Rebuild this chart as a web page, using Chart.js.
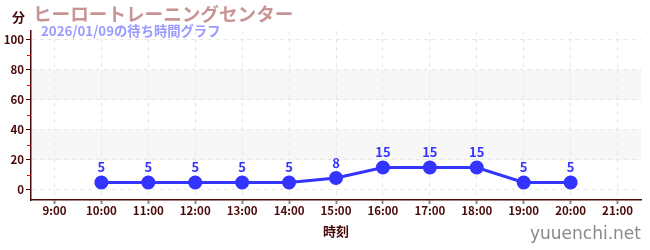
<!DOCTYPE html>
<html>
<head>
<meta charset="utf-8">
<script src="https://cdn.jsdelivr.net/npm/chart.js@4"></script>
<style>
  html, body { margin: 0; padding: 0; background: #fff; }
  #wrap { position: relative; width: 650px; height: 250px; font-family: "Noto Sans CJK JP", "Noto Sans", sans-serif; }
  canvas { position: absolute; left: 0; top: 0; }
  .lbl { position: absolute; white-space: nowrap; font-weight: bold; line-height: 1; }
  #unit { left: 12px; top: 10px; font-size: 13px; color: #4a0a0a; }
  #title { left: 33px; top: 4px; font-size: 18.6px; color: #c89494; }
  #sub { left: 41px; top: 24px; font-size: 13.3px; color: #9a9aff; }
  #mark { left: 530px; top: 225px; font-size: 17px; color: #8a8a8a; font-weight: 500; font-family: "DejaVu Sans", sans-serif; }
</style>
</head>
<body>
<div id="wrap">
  <canvas id="chart" width="650" height="250"></canvas>
  <div class="lbl" id="unit">分</div>
  <div class="lbl" id="title">ヒーロートレーニングセンター</div>
  <div class="lbl" id="sub">2026/01/09の待ち時間グラフ</div>
  <div class="lbl" id="mark">yuuenchi.net</div>
</div>
<script>
const times = ['9:00', '10:00', '11:00', '12:00', '13:00', '14:00', '15:00', '16:00', '17:00', '18:00', '19:00', '20:00', '21:00'];
const waits = [null, 5, 5, 5, 5, 5, 8, 15, 15, 15, 5, 5, null];
const yTicks = [0, 20, 40, 60, 80, 100];
const minorTicks = [10, 30, 50, 70, 90];
const bands = [[20, 40], [60, 80]];

const axisColor = '#4a0a0a';
const lineColor = '#3434ff';

// shaded bands behind the grid
const bandPlugin = {
  id: 'bands',
  beforeDraw(chart) {
    const { ctx, chartArea: a, scales: { y } } = chart;
    ctx.save();
    ctx.fillStyle = '#f7f7f7';
    bands.forEach(([lo, hi]) => {
      const top = y.getPixelForValue(hi), bot = y.getPixelForValue(lo);
      ctx.fillRect(a.left, top, a.right - a.left, bot - top);
    });
    ctx.restore();
  },
  afterDraw(chart) {
    const { ctx, scales: { y } } = chart;
    ctx.save();
    ctx.strokeStyle = '#d01010';
    ctx.lineWidth = 1;
    minorTicks.forEach(v => {
      const py = Math.round(y.getPixelForValue(v)) + 0.5;
      ctx.beginPath();
      ctx.moveTo(y.right - 4, py);
      ctx.lineTo(y.right, py);
      ctx.stroke();
    });
    ctx.restore();
  }
};

// value labels above the points
const valuePlugin = {
  id: 'values',
  afterDatasetsDraw(chart) {
    const { ctx } = chart;
    const meta = chart.getDatasetMeta(0);
    ctx.save();
    ctx.fillStyle = lineColor;
    ctx.font = 'bold 13px "Noto Sans CJK JP", sans-serif';
    ctx.textAlign = 'center';
    ctx.textBaseline = 'middle';
    meta.data.forEach((pt, i) => {
      if (waits[i] == null) return;
      ctx.fillText(String(waits[i]), pt.x, pt.y - 15);
    });
    ctx.restore();
  }
};

new Chart(document.getElementById('chart'), {
  type: 'line',
  data: {
    labels: times,
    datasets: [{
      data: waits,
      borderColor: lineColor,
      backgroundColor: lineColor,
      borderWidth: 3,
      pointRadius: 5.5,
      pointHoverRadius: 5.5,
      tension: 0,
      spanGaps: false
    }]
  },
  options: {
    responsive: false,
    animation: false,
    events: [],
    layout: { padding: { left: 0, right: 9, top: 31, bottom: 0 } },
    plugins: { legend: { display: false }, tooltip: { enabled: false }, title: { display: false } },
    scales: {
      x: {
        offset: true,
        grid: { offset: false, color: '#e6e6e6', tickColor: '#8a8a8a', tickLength: 4, tickWidth: 2 },
        border: { color: axisColor, width: 1.5, dash: [4, 4] },
        ticks: { color: axisColor, padding: 0, maxRotation: 0, autoSkip: false, font: { family: '"Noto Sans CJK JP", sans-serif', size: 11.5, weight: 'bold' } },
        title: { display: true, text: '時刻', color: axisColor, padding: { top: 0, bottom: 11 }, font: { family: '"Noto Sans CJK JP", sans-serif', size: 13, weight: 'bold' } },
        afterFit(s) { s.height = 50; }
      },
      y: {
        min: -6.7,
        max: 106,
        afterBuildTicks(s) { s.ticks = yTicks.map(v => ({ value: v })); },
        grid: { color: '#e6e6e6', tickColor: axisColor, tickLength: 5 },
        border: { color: axisColor, width: 1.5, dash: [4, 4] },
        ticks: { color: axisColor, padding: 2, font: { family: '"Noto Sans CJK JP", sans-serif', size: 11.5, weight: 'bold' } },
        afterFit(s) { s.width = 31; }
      }
    }
  },
  plugins: [bandPlugin, valuePlugin]
});
</script>
</body>
</html>
